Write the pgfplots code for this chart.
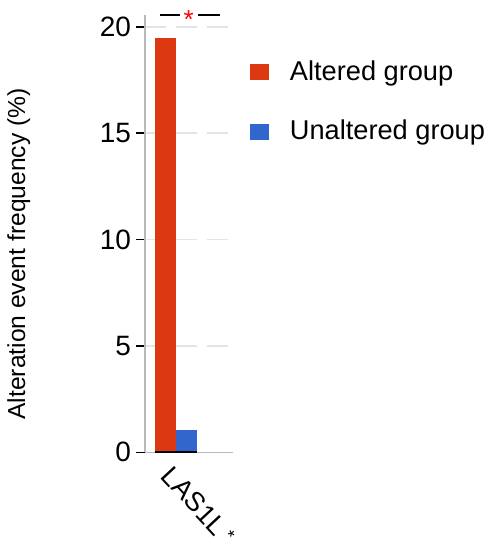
\documentclass[border=0pt]{standalone}
\usepackage{fontspec}
\setmainfont{Liberation Sans}
\usepackage{pgfplots}
\pgfplotsset{compat=1.18}
\definecolor{altred}{HTML}{DC3912}
\definecolor{unblue}{HTML}{3366CC}
\definecolor{gridgray}{RGB}{228,228,228}
\definecolor{axgray}{RGB}{185,185,185}
\begin{document}
\begin{tikzpicture}
\path[use as bounding box] (0pt,0pt) rectangle (248pt,270.5pt);
\begin{axis}[
  at={(72.5pt,44.35pt)}, anchor=south west,
  scale only axis, width=44pt, height=218.65pt,
  xmin=-0.953, xmax=3.18, ymin=0, ymax=20.56,
  clip=false,
  axis lines*=left,
  axis line style={axgray, line width=0.8pt, -},
  ytick={0,5,10,15,20},
  xtick={0.5},
  xticklabels={LAS1L\hspace{2.5pt}\raisebox{0.35ex}{\fontsize{9}{9}\selectfont *}},
  xtick style={draw=none},
  ytick style={black, line width=0.8pt},
  major tick length=4.5pt,
  tick align=outside,
  /pgf/number format/assume math mode=true,
  yticklabel style={font=\fontsize{14}{16}\selectfont, xshift=1pt},
  xticklabel style={font=\fontsize{13.5}{15}\selectfont, rotate=-47, anchor=north west, xshift=-3pt, yshift=1.5pt},
  ymajorgrids,
  grid style={gridgray, dash pattern=on 10.5pt off 5pt, line width=0.8pt},
  ylabel={Alteration event frequency (\%)},
  ylabel style={font=\fontsize{12.3}{14}\selectfont, at={(axis description cs:-1.435,0.4535)}, anchor=center, rotate=0},
  ybar, bar width=1,
  legend style={at={(axis description cs:1.12,0.906)}, anchor=north west, draw=none, fill=none,
    font=\fontsize{13.6}{16}\selectfont, row sep=18.5pt, column sep=10.5pt,
    nodes={inner sep=0pt}},
  legend cell align=left,
]
\addplot[fill=altred, draw=none, bar shift=0pt,
  legend image code/.code={\fill[altred] (0pt,-4pt) rectangle (9.5pt,4pt);}]
  coordinates {(0,19.49)};
\addlegendentry{Altered group}
\addplot[fill=unblue, draw=none, bar shift=0pt,
  legend image code/.code={\fill[unblue] (0pt,-4pt) rectangle (9.5pt,4pt);}]
  coordinates {(1,1.05)};
\addlegendentry{Unaltered group}
\draw[black, line width=1pt] (axis cs:-0.5,0) -- (axis cs:1.5,0);
\draw[black, line width=0.9pt] (axis cs:-0.25,20.56) -- (axis cs:0.69,20.56);
\draw[black, line width=0.9pt] (axis cs:1.54,20.56) -- (axis cs:2.57,20.56);
\node[red, font=\fontsize{13}{13}\selectfont, yshift=-2.5pt] at (axis cs:1.1,20.56) {*};
\end{axis}
\end{tikzpicture}
\end{document}
